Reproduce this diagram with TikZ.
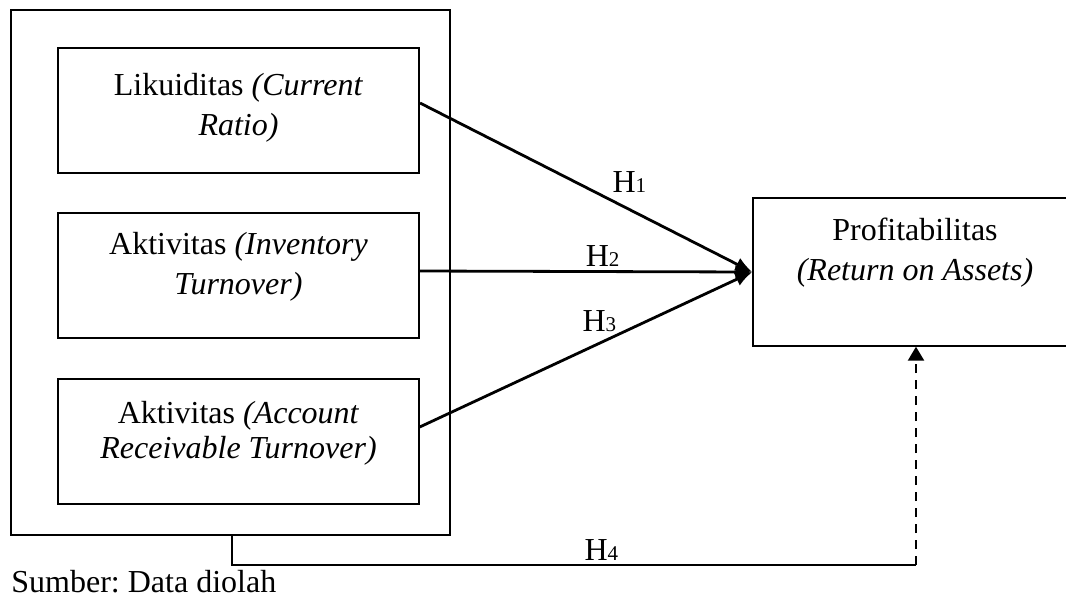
\documentclass[tikz,border=0pt]{standalone}
\usepackage{fontspec}
\setmainfont{Liberation Serif}
\usetikzlibrary{arrows.meta, positioning, calc}
\frenchspacing
\newcommand{\hyp}[1]{H{\fontsize{10.5}{10.5}\selectfont #1}}

\begin{document}
\begin{tikzpicture}[x=0.5pt, y=-0.5pt,
  every node/.style={font=\fontsize{16}{20}\selectfont},
  varbox/.style={draw, line width=0.8pt, inner sep=0pt, align=center,
    minimum width=180.5pt, minimum height=62.5pt},
  groupbox/.style={draw, line width=0.9pt, inner sep=0pt,
    minimum width=219.5pt, minimum height=262.5pt},
  link/.style={line width=1.4pt, -{Latex[length=8.5pt, width=7pt]}},
  hlab/.style={above, inner sep=2pt}]
\useasboundingbox (0,0) rectangle (1066,596);

\node[groupbox] (grp) at (230.5,272.5) {};
\node[varbox, line width=1pt, text depth=6pt] (lik) at (238.5,110.5)
  {Likuiditas \textit{(Current}\\\textit{Ratio)}};
\node[varbox, line width=0.7pt, text depth=12pt] (inv) at (238.5,275.5)
  {Aktivitas \textit{(Inventory}\\\textit{Turnover)}};
\node[varbox, line width=0.7pt, text depth=11.5pt] (acc) at (238.5,441.5)
  {Aktivitas \textit{(Account}\\[-2.5pt]\textit{Receivable Turnover)}};
\node[varbox, line width=0.7pt, minimum width=162pt, minimum height=74pt,
  text depth=23pt] (prof) at (915,272)
  {Profitabilitas\\\textit{(Return on Assets)}};

\draw[link] ([yshift=3.75pt]lik.east) -- (prof.west)
  node[hlab, pos=0.63, above=6pt] {\hyp{1}};
\draw[link] ([yshift=2.25pt]inv.east) -- (prof.west)
  node[hlab, pos=0.55] {\hyp{2}};
\draw[link] ([yshift=7.25pt]acc.east) -- (prof.west)
  node[hlab, pos=0.54, above=3pt] {\hyp{3}};

\coordinate (bend) at (916,565);
\draw[line width=0.9pt] ([xshift=0.75pt]grp.south) |- (bend)
  node[hlab, pos=0.77] {\hyp{4}};
\draw[line width=1.2pt, dash pattern=on 4.5pt off 3.5pt,
  -{Triangle[length=7pt, width=8pt]}] (bend) -- (bend |- prof.south);

\node[anchor=base west, inner sep=0pt, text depth=0pt] (src) at (11,592)
  {Sumber: Data diolah};
\end{tikzpicture}
\end{document}
